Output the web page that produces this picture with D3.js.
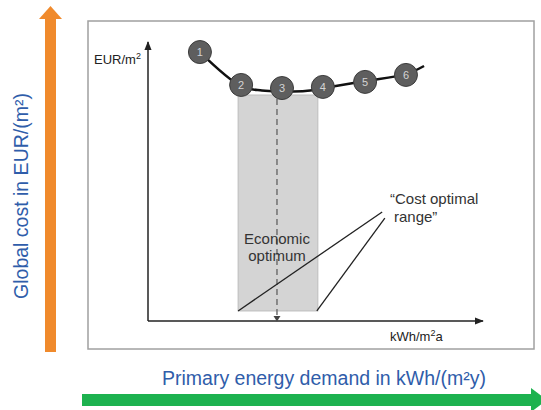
<!DOCTYPE html>
<html lang="en">
<head>
<meta charset="utf-8">
<title>Cost optimal range</title>
<script src="https://d3js.org/d3.v7.min.js"></script>
<style>
  body { margin: 0; background: #fff; }
  text { font-family: "Liberation Sans", Arial, sans-serif; }
</style>
</head>
<body>
<div id="chart"></div>
<script>
// measure variants (x = primary energy, y = global cost), arbitrary units 0..100
var variantIds = [1, 2, 3, 4, 5, 6];
var variantX = [15.5, 27.8, 40.0, 52.2, 64.8, 77.0];
var variantY = [96.4, 84.6, 83.5, 83.9, 85.7, 88.2];

// cost curve drawn through the variants
var curveX = [15.5, 27.8, 34.0, 40.3, 46.9, 52.5, 64.8, 77.0, 82.4];
var curveY = [96.4, 84.2, 82.6, 82.3, 82.4, 83.5, 86.0, 88.5, 91.4];

// cost optimal range and economic optimum
var rangeX = [26.9, 50.7];
var rangeTop = 81.0, rangeBottom = 3.6;
var optimumX = 38.5;

// leader lines from the label to the range corners
var leaderStart = [[26.9, 3.6], [50.4, 3.6]];
var leaderEnd = [[69.9, 39.1], [70.7, 36.9]];

var W = 541, H = 410;
var svg = d3.select("#chart").append("svg")
    .attr("width", W).attr("height", H);

var x = d3.scaleLinear().domain([0, 100]).range([148, 483]);
var y = d3.scaleLinear().domain([0, 100]).range([321, 42]);

var blue = "#2f5daa", orange = "#f08a2c", green = "#1db24f";

// outer frame
svg.append("rect")
    .attr("x", 88).attr("y", 21).attr("width", 446).attr("height", 328)
    .attr("fill", "#fff").attr("stroke", "#a0a0a0").attr("stroke-width", 1.5);

// orange vertical arrow
svg.append("rect").attr("x", 45).attr("y", 18).attr("width", 11).attr("height", 334).attr("fill", orange);
svg.append("path").attr("d", "M39,19 L50.5,6 L62,19 Z").attr("fill", orange);

// green horizontal arrow
svg.append("rect").attr("x", 82).attr("y", 394).attr("width", 452).attr("height", 12).attr("fill", green);
svg.append("path").attr("d", "M531,388 L547,400 L531,412 Z").attr("fill", green);

svg.append("text")
    .attr("transform", "translate(28,196) rotate(-90)")
    .attr("text-anchor", "middle")
    .style("font-size", "19.5px").style("fill", blue)
    .text("Global cost in EUR/(m²)");

svg.append("text")
    .attr("x", 324).attr("y", 385)
    .attr("text-anchor", "middle")
    .style("font-size", "19.5px").style("fill", blue)
    .text("Primary energy demand in kWh/(m²y)");

// arrow markers for axes
var defs = svg.append("defs");
defs.append("marker").attr("id", "ah").attr("viewBox", "0 0 10 10")
    .attr("refX", 9).attr("refY", 5).attr("markerWidth", 6).attr("markerHeight", 6)
    .attr("orient", "auto-start-reverse")
    .append("path").attr("d", "M0,1 L10,5 L0,9 Z").attr("fill", "#222");

// shaded range
svg.append("rect")
    .attr("x", x(rangeX[0])).attr("y", y(rangeTop))
    .attr("width", x(rangeX[1]) - x(rangeX[0]))
    .attr("height", y(rangeBottom) - y(rangeTop))
    .attr("fill", "#d4d4d4").attr("stroke", "#bdbdbd").attr("stroke-width", 1);

// axes
svg.append("line")
    .attr("x1", x(0)).attr("y1", y(0)).attr("x2", x(0)).attr("y2", y(100))
    .attr("stroke", "#222").attr("stroke-width", 1.5).attr("marker-end", "url(#ah)");
svg.append("line")
    .attr("x1", x(0)).attr("y1", y(0)).attr("x2", x(100)).attr("y2", y(0))
    .attr("stroke", "#222").attr("stroke-width", 1.5).attr("marker-end", "url(#ah)");

svg.append("text").attr("x", 94).attr("y", 64)
    .style("font-size", "13px").style("fill", "#222")
    .html('EUR/m<tspan dy="-5" style="font-size:9px">2</tspan>');
svg.append("text").attr("x", 390).attr("y", 341)
    .style("font-size", "13px").style("fill", "#222")
    .html('kWh/m<tspan dy="-5" style="font-size:9px">2</tspan><tspan dy="5">a</tspan>');

// economic optimum dashed line
svg.append("line")
    .attr("x1", x(optimumX)).attr("y1", y(rangeTop) + 4)
    .attr("x2", x(optimumX)).attr("y2", y(0) - 3)
    .attr("stroke", "#707070").attr("stroke-width", 1.5).attr("stroke-dasharray", "6,4");
svg.append("path")
    .attr("d", "M" + (x(optimumX) - 3.5) + "," + (y(0) - 5) + " L" + (x(optimumX) + 3.5) + "," + (y(0) - 5) + " L" + x(optimumX) + "," + (y(0) + 0.5) + " Z")
    .attr("fill", "#444");

svg.append("text").attr("x", x(optimumX)).attr("y", 244)
    .attr("text-anchor", "middle").style("font-size", "15px").style("fill", "#333")
    .text("Economic");
svg.append("text").attr("x", x(optimumX)).attr("y", 261)
    .attr("text-anchor", "middle").style("font-size", "15px").style("fill", "#333")
    .text("optimum");

// leader lines
svg.selectAll(".leader").data(d3.range(leaderStart.length)).enter()
    .append("line").attr("class", "leader")
    .attr("x1", function(i) { return x(leaderStart[i][0]); })
    .attr("y1", function(i) { return y(leaderStart[i][1]); })
    .attr("x2", function(i) { return x(leaderEnd[i][0]); })
    .attr("y2", function(i) { return y(leaderEnd[i][1]); })
    .attr("stroke", "#222").attr("stroke-width", 1.3);

svg.append("text").attr("x", 390).attr("y", 204)
    .style("font-size", "15px").style("fill", "#333")
    .text("\u201CCost optimal");
svg.append("text").attr("x", 394).attr("y", 222)
    .style("font-size", "15px").style("fill", "#333")
    .text("range\u201D");

// cost curve
var line = d3.line()
    .x(function(d, i) { return x(curveX[i]); })
    .y(function(d, i) { return y(curveY[i]); })
    .curve(d3.curveCatmullRom);
svg.append("path").datum(curveX)
    .attr("d", line)
    .attr("fill", "none").attr("stroke", "#111").attr("stroke-width", 2.5);

// variant circles
var g = svg.selectAll(".variant").data(variantIds).enter()
    .append("g").attr("class", "variant")
    .attr("transform", function(d, i) { return "translate(" + x(variantX[i]) + "," + y(variantY[i]) + ")"; });
g.append("circle").attr("r", 11.5)
    .attr("fill", "#5e5e5e").attr("stroke", "#3c3c3c").attr("stroke-width", 1);
g.append("text").attr("text-anchor", "middle").attr("dy", "0.35em")
    .style("font-size", "11px").style("fill", "#d4d4d4")
    .text(function(d) { return d; });
</script>
</body>
</html>
